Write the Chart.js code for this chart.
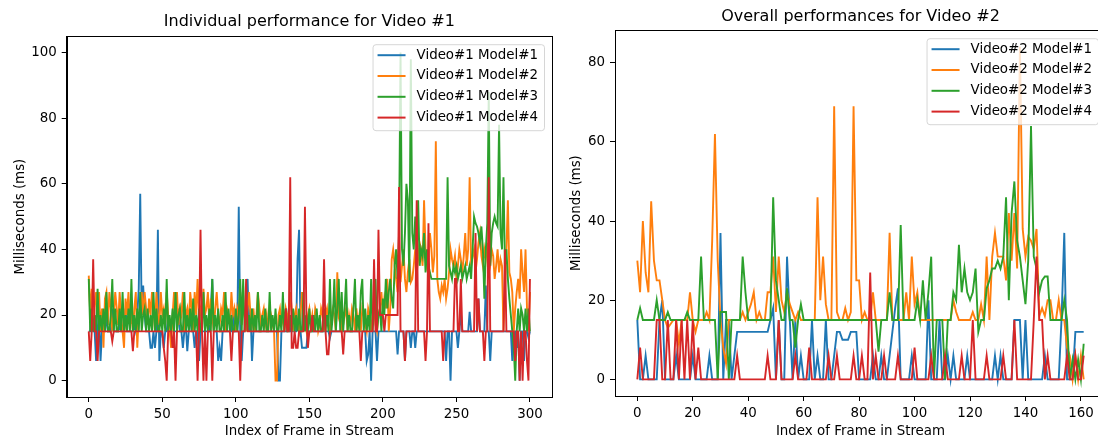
<!DOCTYPE html>
<html>
<head>
<meta charset="utf-8">
<script src="https://cdn.jsdelivr.net/npm/chart.js@4"></script>
<style>
html, body { margin: 0; padding: 0; background: #fff; width: 1098px; height: 438px; overflow: hidden; }
.box { position: absolute; top: 0; height: 438px; width: 560px; }
#leftBox { left: 0; }
#rightBox { left: 560px; }
</style>
</head>
<body>
<div class="box" id="leftBox"><canvas id="chart1"></canvas></div>
<div class="box" id="rightBox"><canvas id="chart2"></canvas></div>
<script>
/* ── Frame times per model ── */

/* ===================== VIDEO #1 (frames 0..300) ===================== */
const v1Model1 = [
  15,15,22,15,15,6,15,22,6,15, 15,15,20,15,15,15,22,15,15,15,
  15,17,15,15,15,22,15,15,15,15, 15,17,15,20,28,57,20,29,20,15,
  15,15,10,10,15,10,15,46,6,15, 15,10,15,15,20,15,15,15,15,15,
  15,22,15,15,10,15,17,9,15,20, 15,15,10,15,15,6,15,15,15,15,
  15,15,15,22,31,15,15,15,6,10, 6,15,15,15,15,15,15,15,22,15,
  15,15,53,15,6,15,15,22,31,15, 22,6,15,15,15,15,15,15,15,15,
  15,15,15,15,15,15,15,15,15,0, 0,15,15,15,15,15,22,15,15,15,
  15,15,37,46,15,10,10,10,10,15, 15,15,15,15,15,15,15,15,15,15,
  15,15,15,15,13,15,15,15,15,15, 15,15,15,15,15,15,15,15,15,15,
  15,15,15,15,15,15,15,15,15,6, 8,15,0,15,15,15,6,15,15,15,
  15,15,15,15,15,15,15,15,15,15, 8,15,15,15,15,6,15,15,15,10,
  15,15,10,15,15,15,15,15,15,15, 15,15,15,15,15,15,15,15,15,15,
  15,15,15,6,15,15,0,15,15,15, 15,10,15,21,15,15,15,15,15,21,
  15,15,15,15,15,25,15,15,15,15, 29,15,15,6,15,15,15,15,15,15,
  15,15,15,15,15,15,15,15,6,15, 15,10,15,0,15,15,6,15,15,13,
  15
];
const v1Model2 = [
  32,20,28,17,22,27,20,27,15,22, 10,25,27,17,27,22,15,20,27,22,
  17,27,20,15,10,25,20,27,17,20, 15,22,27,10,20,22,27,20,27,22,
  17,25,20,27,22,15,27,20,17,27, 20,22,17,27,20,15,10,20,27,22,
  27,17,22,20,27,15,20,22,17,27, 22,15,27,20,31,20,22,15,28,20,
  22,27,17,25,20,15,22,27,20,17, 22,20,27,15,22,20,17,27,20,22,
  15,22,20,27,17,22,20,15,22,27, 20,17,22,15,20,27,22,17,20,22,
  17,20,15,22,20,17,15,0,0,20, 22,17,20,15,22,20,17,27,22,15,
  20,22,17,15,20,27,22,17,15,20, 22,17,20,15,22,20,15,17,22,20,
  15,20,22,17,15,20,22,20,15,33, 20,22,15,17,20,22,15,20,17,22,
  20,15,22,17,20,15,22,20,17,15, 22,20,15,20,22,17,15,20,22,27,
  20,25,22,31,15,22,37,40,35,31, 27,37,30,35,40,31,27,33,37,30,
  31,35,40,33,37,42,40,35,55,40, 35,37,45,40,33,38,73,31,27,25,
  29,27,31,25,28,33,40,37,35,38, 31,35,40,37,33,38,45,35,40,62,
  35,38,40,33,37,42,45,38,35,40, 37,42,33,35,40,38,31,35,40,33,
  37,35,15,27,40,55,33,31,27,15, 22,27,31,25,40,33,27,40,22,15,
  27
];
const v1Model3 = [
  31,15,22,15,20,15,28,15,20,15, 22,15,27,15,15,20,31,15,22,15,
  15,22,15,27,15,20,15,22,15,31, 15,20,15,22,15,27,15,20,22,15,
  22,15,20,15,27,15,22,15,15,20, 15,22,15,31,15,20,15,22,15,27,
  15,20,22,15,15,27,15,20,15,22, 15,25,15,20,15,22,15,15,27,15,
  20,15,22,15,31,15,20,15,22,15, 15,20,15,27,15,22,15,20,15,15,
  22,15,20,31,15,31,15,22,15,20, 15,22,15,20,15,27,15,15,20,15,
  22,15,15,27,15,20,15,22,15,15, 20,15,27,15,22,15,15,20,15,22,
  15,20,15,22,15,15,27,15,20,15, 22,15,15,20,15,22,15,20,15,15,
  22,15,20,15,31,15,20,31,15,22, 31,15,27,15,22,31,15,20,15,15,
  22,31,15,20,15,27,31,15,22,15, 20,15,31,15,22,31,15,20,22,15,
  25,20,31,22,27,31,25,22,35,40, 31,45,100,40,35,45,60,55,30,98,
  45,40,50,38,55,35,40,38,45,33, 40,35,33,31,31,31,31,31,31,31,
  31,31,31,31,62,35,33,31,35,33, 35,31,33,35,31,33,35,31,33,35,
  31,40,50,48,47,45,42,47,40,25, 40,48,88,35,45,48,50,48,47,78,
  45,40,62,35,40,31,25,20,15,10, 0,15,22,15,22,20,15,22,15,22,
  15
];
const v1Model4 = [
  15,6,15,37,15,15,6,15,15,15, 15,15,15,15,15,15,12,15,15,15,
  15,15,15,15,15,15,15,15,15,15, 9,15,15,15,15,15,15,15,15,15,
  15,15,15,15,15,15,15,15,15,15, 15,10,6,0,15,15,15,10,15,0,
  15,15,15,15,15,15,15,15,15,15, 15,15,15,15,0,15,46,15,0,15,
  0,15,15,15,0,15,15,15,15,15, 15,15,15,15,15,15,15,6,15,15,
  15,15,15,0,15,15,15,31,15,15, 15,15,15,15,15,15,15,15,15,15,
  15,15,15,15,15,15,15,15,15,15, 15,15,15,15,22,15,15,62,10,10,
  15,10,10,15,15,15,15,53,20,10, 15,15,20,15,15,15,15,15,15,15,
  37,15,8,8,15,15,15,15,15,15, 15,15,15,8,15,15,15,15,15,15,
  15,15,15,15,15,6,15,15,15,15, 15,15,15,15,37,15,15,46,20,20,
  20,15,20,20,20,20,20,20,20,20, 20,59,15,15,15,6,15,15,15,15,
  15,15,15,55,15,15,15,15,15,6, 15,48,15,15,15,15,15,15,15,15,
  15,6,15,15,15,15,15,15,15,31, 31,15,15,31,15,15,15,15,15,15,
  15,15,15,45,15,25,15,15,15,6, 15,15,62,15,15,15,15,15,15,15,
  15,15,15,40,15,15,15,15,15,15, 6,15,15,0,15,0,15,15,6,0,
  31
];

/* ===================== VIDEO #2 (frames 0..161) ===================== */
const v2Model1 = [
  15,0,0,6,0,0,0,0,15,20, 0,0,0,0,6,0,0,0,0,0,
  6,0,0,0,0,0,6,0,0,0, 37,0,15,15,0,6,12,12,12,12,
  12,12,12,12,12,12,12,12,15,18, 0,15,0,0,31,15,0,15,0,6,
  0,0,0,15,0,6,0,0,15,0, 0,6,12,12,10,10,10,12,12,12,
  0,0,0,0,0,6,0,0,6,0, 0,6,12,18,23,0,0,0,0,6,
  0,0,0,0,0,20,0,0,0,15, 0,0,6,0,6,0,0,0,0,6,
  0,0,0,0,0,0,0,0,0,6, 0,6,0,0,0,0,15,15,15,0,
  15,0,0,0,0,0,0,6,0,0, 0,0,0,15,37,0,0,0,12,12,
  12,12
];
const v2Model2 = [
  30,22,40,27,22,45,30,25,25,20, 15,13,14,15,15,9,15,15,15,22,
  15,12,15,15,15,17,15,35,62,30, 15,8,4,15,15,15,15,15,17,15,
  17,19,22,15,17,15,15,22,22,31, 17,31,20,17,22,19,17,15,17,15,
  15,15,15,15,15,46,20,31,19,15, 15,69,17,15,15,18,15,17,69,25,
  25,15,17,15,15,22,15,15,15,15, 15,37,15,15,15,15,15,22,15,31,
  19,22,15,15,15,15,15,15,15,15, 15,15,15,15,20,17,15,15,15,15,
  15,17,15,15,19,15,31,15,31,37, 31,31,31,25,42,30,42,28,84,38,
  31,36,35,33,38,16,18,16,20,20, 15,15,20,15,15,8,6,0,6,0,
  6,0
];
const v2Model3 = [
  15,18,15,15,15,15,15,20,15,15, 15,17,15,15,15,15,15,15,17,15,
  15,15,15,31,15,15,15,15,15,0, 17,17,17,0,15,15,15,15,31,22,
  15,15,15,15,15,15,15,15,15,46, 25,20,15,15,23,15,15,8,15,19,
  15,15,15,15,15,15,15,15,15,15, 15,15,15,15,15,15,15,15,15,15,
  15,15,15,15,15,15,15,7,15,15, 15,22,15,15,15,39,15,15,15,15,
  15,20,15,25,15,22,31,0,15,15, 15,0,15,15,22,20,34,22,28,22,
  20,22,28,12,15,15,23,25,28,28, 30,28,31,46,20,42,50,35,31,25,
  19,30,64,31,28,22,25,26,26,15, 15,15,15,15,20,15,0,5,0,5,
  0,9
];
const v2Model4 = [
  0,8,0,0,0,0,0,15,15,0, 0,15,0,0,15,0,15,0,15,0,
  15,0,8,0,0,0,0,0,0,0, 0,0,0,0,0,0,6,0,0,0,
  0,0,0,0,0,0,0,6,0,0, 0,15,0,0,0,0,0,6,0,0,
  0,0,8,0,0,0,0,0,0,6, 0,0,6,0,0,0,0,0,6,0,
  0,6,0,0,27,0,6,0,0,6, 0,0,0,0,6,0,0,0,0,0,
  8,0,0,0,0,0,6,0,0,0, 0,6,0,0,0,0,0,6,0,0,
  0,15,0,0,0,0,6,0,0,0, 0,0,6,0,0,0,15,0,0,0,
  0,0,0,15,31,15,15,0,6,0, 0,0,0,0,0,6,0,0,6,0,
  0,6
];

const v1Labels = ['Video#1 Model#1', 'Video#1 Model#2', 'Video#1 Model#3', 'Video#1 Model#4'];
const v2Labels = ['Video#2 Model#1', 'Video#2 Model#2', 'Video#2 Model#3', 'Video#2 Model#4'];
const seriesColors = ['#1f77b4', '#ff7f0e', '#2ca02c', '#d62728'];

const v1XTicks = [0, 50, 100, 150, 200, 250, 300];
const v1YTicks = [0, 20, 40, 60, 80, 100];
const v2XTicks = [0, 20, 40, 60, 80, 100, 120, 140, 160];
const v2YTicks = [0, 20, 40, 60, 80];

Chart.defaults.font.family = '"DejaVu Sans", sans-serif';
Chart.defaults.font.size = 13.4;
Chart.defaults.color = '#000';

/* ===================== PLUGINS ===================== */
// top/right spines like matplotlib's box
const boxFrame = {
    id: 'boxFrame',
    afterDraw(chart) {
        const { ctx, chartArea: a } = chart;
        ctx.save();
        ctx.strokeStyle = '#000';
        ctx.lineWidth = 1;
        ctx.strokeRect(Math.round(a.left) + 0.5, Math.round(a.top) + 0.5,
                       Math.round(a.right - a.left), Math.round(a.bottom - a.top));
        ctx.restore();
    }
};

// legend drawn inside the plot, upper right
const innerLegend = {
    id: 'innerLegend',
    afterDatasetsDraw(chart, args, opts) {
        const { ctx, chartArea: a } = chart;
        const sets = chart.data.datasets;
        ctx.save();
        ctx.font = '13.4px "DejaVu Sans"';
        const tw = Math.max(...sets.map(d => ctx.measureText(d.label).width));
        const w = 44 + tw + 6;
        const h = 86;
        const x = a.right - opts.right - w;
        const y = a.top + opts.top;
        ctx.beginPath();
        ctx.roundRect(x + 0.5, y + 0.5, w, h, 3);
        ctx.fillStyle = 'rgba(255,255,255,0.8)';
        ctx.fill();
        ctx.strokeStyle = 'rgba(204,204,204,0.8)';
        ctx.lineWidth = 1;
        ctx.stroke();
        sets.forEach((d, i) => {
            const ry = y + 11 + i * 20.8;
            ctx.strokeStyle = d.borderColor;
            ctx.lineWidth = 2;
            ctx.beginPath();
            ctx.moveTo(x + 5, ry);
            ctx.lineTo(x + 33, ry);
            ctx.stroke();
            ctx.fillStyle = '#000';
            ctx.textBaseline = 'middle';
            ctx.fillText(d.label, x + 44, ry);
        });
        ctx.restore();
    }
};

/* ===================== CHART BUILDER ===================== */
function makeDatasets(series, labels) {
    return series.map((arr, i) => ({
        label: labels[i],
        data: arr.map((v, k) => ({ x: k, y: v })),
        borderColor: seriesColors[i],
        backgroundColor: seriesColors[i],
        borderWidth: 1.9,
        pointRadius: 0,
        tension: 0,
        fill: false,
        order: 4 - i   // Model#4 ends up on top, as in the source
    }));
}

function makeChart(id, title, datasets, lay) {
    return new Chart(document.getElementById(id), {
        type: 'line',
        data: { datasets },
        plugins: [boxFrame, innerLegend],
        options: {
            responsive: true,
            maintainAspectRatio: false,
            animation: false,
            layout: { padding: { left: 0, right: lay.padR, top: 0, bottom: 0 } },
            plugins: {
                legend: { display: false },
                tooltip: { enabled: false },
                title: {
                    display: true, text: title, color: '#000', fullSize: false,
                    font: { size: 16, weight: 'normal' },
                    padding: { top: lay.titleTop, bottom: lay.titleBottom }
                },
                innerLegend: { right: 8, top: 8 }
            },
            scales: {
                x: {
                    type: 'linear', min: lay.xMin, max: lay.xMax,
                    afterBuildTicks: s => { s.ticks = lay.xTicks.map(v => ({ value: v })); },
                    afterFit: s => { s.height = lay.xH; },
                    ticks: { color: '#000', padding: 4, maxRotation: 0, autoSkip: false },
                    grid: { drawOnChartArea: false, tickLength: 5, tickColor: '#000', tickWidth: 1 },
                    border: { color: '#000', width: 1 },
                    title: {
                        display: true, text: 'Index of Frame in Stream', color: '#000',
                        font: { size: 13.4, lineHeight: 1 }, padding: { top: 0, bottom: 0 }
                    }
                },
                y: {
                    min: lay.yMin, max: lay.yMax,
                    afterBuildTicks: s => { s.ticks = lay.yTicks.map(v => ({ value: v })); },
                    afterFit: s => { s.width = lay.yW; },
                    ticks: { color: '#000', padding: 5 },
                    grid: { drawOnChartArea: false, tickLength: 5, tickColor: '#000', tickWidth: 1 },
                    border: { color: '#000', width: 1 },
                    title: {
                        display: true, text: 'Milliseconds (ms)', color: '#000',
                        font: { size: 13.4, lineHeight: 1.2 }, padding: { top: lay.yTitlePad, bottom: 0 }
                    }
                }
            }
        }
    });
}

makeChart('chart1', 'Individual performance for Video #1',
    makeDatasets([v1Model1, v1Model2, v1Model3, v1Model4], v1Labels),
    { padR: 8, titleTop: 12, titleBottom: 5, xH: 41, yW: 66.7, yTitlePad: 12,
      xMin: -15, xMax: 315, yMin: -5, yMax: 105, xTicks: v1XTicks, yTicks: v1YTicks });

makeChart('chart2', 'Overall performances for Video #2',
    makeDatasets([v2Model1, v2Model2, v2Model3, v2Model4], v2Labels),
    { padR: 14, titleTop: 7, titleBottom: 4, xH: 42, yW: 55, yTitlePad: 8,
      xMin: -8.05, xMax: 169.05, yMin: -4.2, yMax: 88.2, xTicks: v2XTicks, yTicks: v2YTicks });
</script>
</body>
</html>
